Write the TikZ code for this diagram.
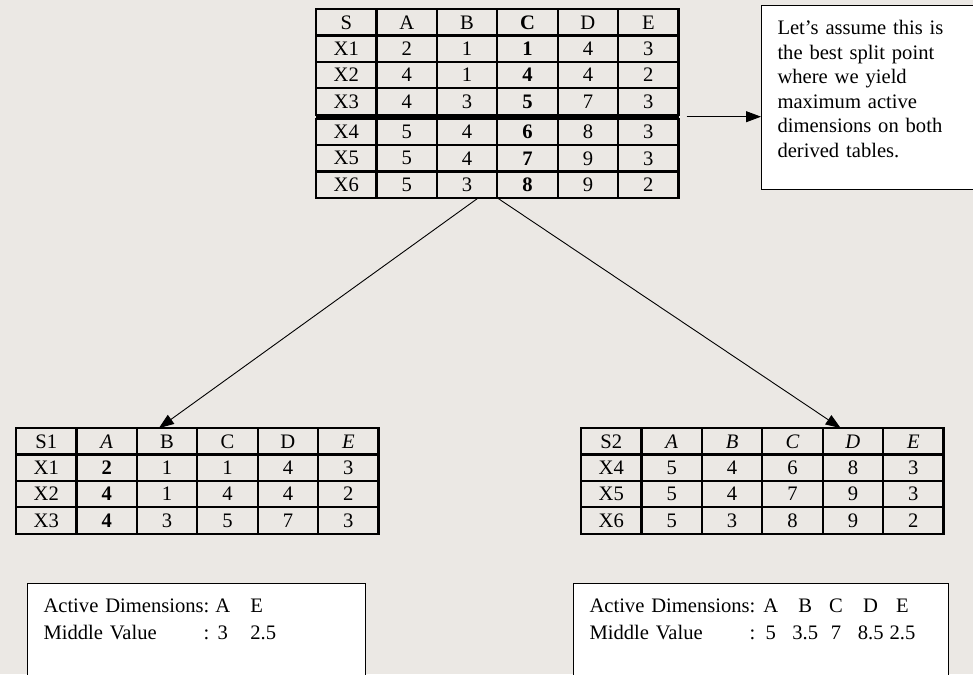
\documentclass[tikz,border=0pt]{standalone}
\usepackage{fontspec}
\setmainfont{Liberation Serif}
\usetikzlibrary{positioning,calc,matrix,arrows.meta}
\definecolor{paper}{HTML}{EBE8E4}
\renewcommand{\arraystretch}{1.1}

\begin{document}
\begin{tikzpicture}[x=1pt,y=-1pt,every node/.style={font=\fontsize{20.6}{24.6}\selectfont},
  tbl/.style={matrix of nodes,anchor=north west,inner sep=0pt,outer sep=0pt,column sep=-2.2pt,row sep=-2.2pt,
    nodes={draw,line width=2.2pt,minimum width=60.4pt,minimum height=26.4pt,inner sep=0pt,anchor=center}},
  memo/.style={draw,fill=white,line width=1pt,align=left,anchor=north west,inner xsep=16pt,text width=#1,text height=14pt},
  split/.style={-{Triangle[length=15pt,width=11pt]},line width=0.9pt}]
\fill[paper] (0,0) rectangle (973,674);
\useasboundingbox (0,0) rectangle (973,674);
\matrix (top) [tbl] at (315,8) {
S & A & B & \textbf{C} & D & E \\
X1 & 2 & 1 & \textbf{1} & 4 & 3 \\
X2 & 4 & 1 & \textbf{4} & 4 & 2 \\
X3 & 4 & 3 & \textbf{5} & 7 & 3 \\[4pt]
X4 & 5 & 4 & \textbf{6} & 8 & 3 \\
X5 & 5 & 4 & \textbf{7} & 9 & 3 \\
X6 & 5 & 3 & \textbf{8} & 9 & 2 \\
};
\coordinate (cutL) at ($(top-4-1.south west)!.5!(top-5-1.north west)$);
\coordinate (cutR) at ($(top-4-6.south east)!.5!(top-5-6.north east)$);
\draw[line width=6pt] (cutL) -- (cutR);
\node[memo=183pt,text depth=140pt,inner ysep=15pt] (note) at (761,5) {Let’s assume this is\\the best split point\\where we yield\\maximum active\\dimensions on both\\derived tables.};
\draw[split] ([xshift=8pt]cutR) -- (cutR -| note.west);
\matrix (s1) [tbl] at (15,427) {
S1 & \textit{A} & B & C & D & \textit{E} \\
X1 & \textbf{2} & 1 & 1 & 4 & 3 \\
X2 & \textbf{4} & 1 & 4 & 4 & 2 \\
X3 & \textbf{4} & 3 & 5 & 7 & 3 \\
};
\matrix (s2) [tbl] at (580,427) {
S2 & \textit{A} & \textit{B} & \textit{C} & \textit{D} & \textit{E} \\
X4 & 5 & 4 & 6 & 8 & 3 \\
X5 & 5 & 4 & 7 & 9 & 3 \\
X6 & 5 & 3 & 8 & 9 & 2 \\
};
\draw[split] ([xshift=-19pt]top-7-3.south east) -- ([xshift=22pt]s1-1-3.north west);
\draw[split] (top-7-3.south east) -- ([xshift=18pt]s2-1-5.north west);
\node[memo=306pt,text depth=90pt,inner ysep=15pt] (sum1) at (27,583) {\begin{tabular}[t]{@{}l@{\hspace{6pt}}c@{\hspace{20pt}}l@{}}
Active Dimensions: & A & E \\
Middle Value\hfill: & 3 & 2.5
\end{tabular}};
\node[memo=343pt,text depth=90pt,inner ysep=15pt] (sum2) at (573,583) {\begin{tabular}[t]{@{}l@{\hspace{8pt}}c@{\hspace{14pt}}c@{\hspace{11pt}}c@{\hspace{15pt}}c@{\hspace{6pt}}c@{}}
Active Dimensions: & A & B & C & D & E \\
Middle Value\hfill: & 5 & 3.5 & 7 & 8.5 & 2.5
\end{tabular}};
\end{tikzpicture}
\end{document}
